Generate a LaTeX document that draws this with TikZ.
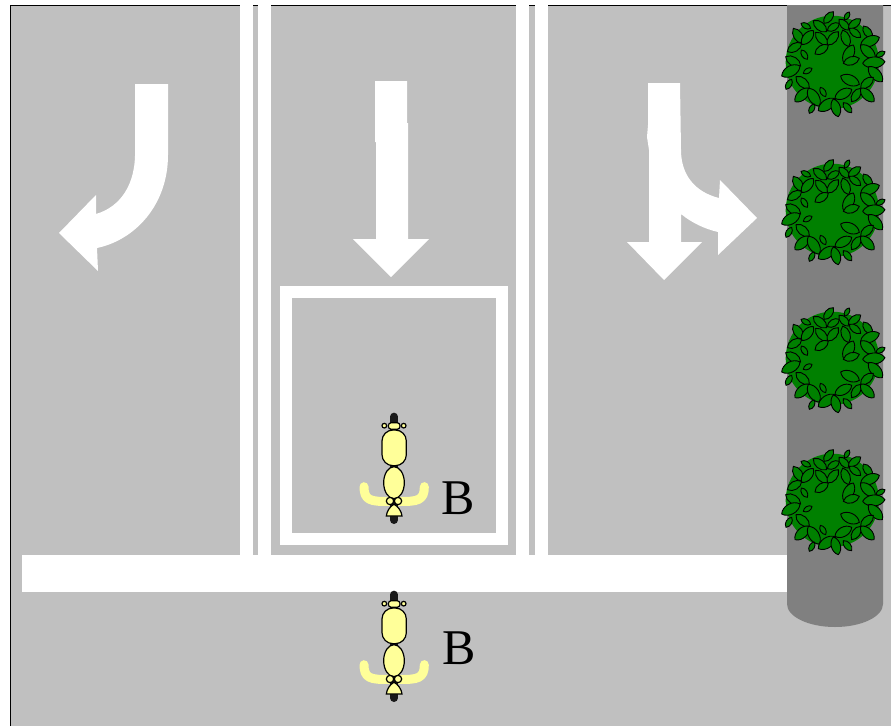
\documentclass[tikz,border=0pt]{standalone}
\usepackage{fontspec}
\setmainfont{Liberation Serif}
\definecolor{roadgray}{HTML}{C0C0C0}
\definecolor{trunkgray}{HTML}{808080}
\definecolor{bushgreen}{HTML}{008000}
\definecolor{bikeyellow}{HTML}{FFFF99}
\tikzset{
    marking/.style={fill=white,draw=none},
    leaf/.style={draw=black,fill=bushgreen,line width=0.9pt,line join=round},
    bikepart/.style={draw=black,fill=bikeyellow,line width=1.2pt},
    bush/.pic={
        \begin{scope}[scale=1/3]
        \fill[bushgreen] (187,187) circle (140);
        \foreach \ax/\ay/\bx/\by in {
            162/70/190/35, 224/60/238/36, 93/70/122/85, 130/62/170/95,
            172/92/208/70, 207/58/238/90, 235/85/272/57, 238/85/272/112,
            280/78/306/115, 218/90/236/140, 70/85/98/130, 95/133/130/92,
            137/97/172/135, 172/135/205/95, 135/162/175/135, 94/150/112/178,
            52/155/95/130, 272/135/328/112, 272/135/315/175, 318/170/345/155,
            222/190/250/135, 220/190/268/175, 278/190/345/185, 296/200/337/245,
            47/170/92/198, 35/228/90/198, 48/268/65/238, 100/220/126/205,
            212/228/268/253, 78/230/118/265, 75/305/118/265, 115/265/148/318,
            151/262/167/290, 272/265/310/232, 245/305/272/265, 272/265/312/305,
            195/295/245/268, 145/332/197/297, 190/297/205/350, 220/308/245/338,
            118/340/133/312}
            \path[leaf] (\ax,\ay) to[bend left=58] (\bx,\by) to[bend left=58] (\ax,\ay) -- cycle;
        \end{scope}
    },
    bike/.pic={
        \begin{scope}[scale=1/3]
        \draw[bikeyellow,line width=9pt,line cap=round,line join=round]
            (72,260) .. controls (72,300) and (90,306) .. (150,304)
            -- (174,304) .. controls (235,306) and (253,300) .. (253,260);
        \draw[black!90,line width=8pt,line cap=round] (162,50) -- (162,360);
        \path[bikepart] (133,77) circle (7);
        \path[bikepart] (191,77) circle (7);
        \path[bikepart,rounded corners=3pt] (145,68) rectangle (180,88);
        \path[bikepart,rounded corners=11pt] (126,90) rectangle (199,197);
        \path[bikepart] (162,248) ellipse [x radius=31,y radius=48];
        \path[bikepart] (150,303) circle (11);
        \path[bikepart] (174,303) circle (11);
        \path[bikepart] (162,313) .. controls (150,318) and (140,335) .. (139,348)
            -- (186,348) .. controls (185,335) and (174,318) .. (162,313) -- cycle;
        \end{scope}
    }
}
\begin{document}
\begin{tikzpicture}[x=1pt,y=-1pt]
    \useasboundingbox (0,0) rectangle (891,726);

    % road and its edge
    \fill[roadgray] (10,5) rectangle (891,726);
    \draw[black,line width=1pt] (10,726) -- (10,5) -- (891,5);

    % lane lines, stop line and waiting box
    \fill[marking] (240,5) rectangle (253,555);
    \fill[marking] (258,5) rectangle (271,555);
    \fill[marking] (516,5) rectangle (529,555);
    \fill[marking] (535,5) rectangle (548,555);
    \fill[marking] (22,555) rectangle (800,592);
    \draw[white,line width=12pt] (286,292) rectangle (501.5,539);

    % left turn
    \path[marking] (135,84) -- (168,84) -- (168,155)
        .. controls (168,205) and (135,240) .. (97,248)
        -- (98,271) -- (59,233) -- (96,195) -- (96,214)
        .. controls (120,207) and (136,185) .. (135,150) -- cycle;
    % straight on
    \path[marking] (375,81) -- (407,81) -- (407,123) -- (408,123) -- (408,239) -- (429,239)
        -- (391,277) -- (353,239) -- (376,239) -- (376,142) -- (375,142) -- cycle;
    % straight on or right turn
    \path[marking] (648,83) -- (680,83) -- (681,150)
        .. controls (681,175) and (695,192) .. (719,198)
        -- (720,180) -- (757,218) -- (718,255) -- (718,232)
        .. controls (705,229) and (692,223) .. (681,214)
        -- (681,242) -- (702,242) -- (664,280) -- (627,242) -- (649,242)
        -- (649,150) -- (647,137) -- (648,125) -- cycle;

    % tree strip
    \fill[trunkgray] (787,5) -- (883,5) -- (883,604)
        arc (0:180:48 and 23) -- cycle;
    \pic at (770,0) {bush};
    \pic at (770,148) {bush};
    \pic at (770,296) {bush};
    \pic at (770,438) {bush};

    % the two bikes
    \pic at (340,400) {bike};
    \pic at (340,578) {bike};
    \node[font=\fontsize{50}{50}\selectfont,inner sep=0pt] (b1) at (458,498) {B};
    \node[font=\fontsize{50}{50}\selectfont,inner sep=0pt] (b2) at (459,648) {B};
\end{tikzpicture}
\end{document}
